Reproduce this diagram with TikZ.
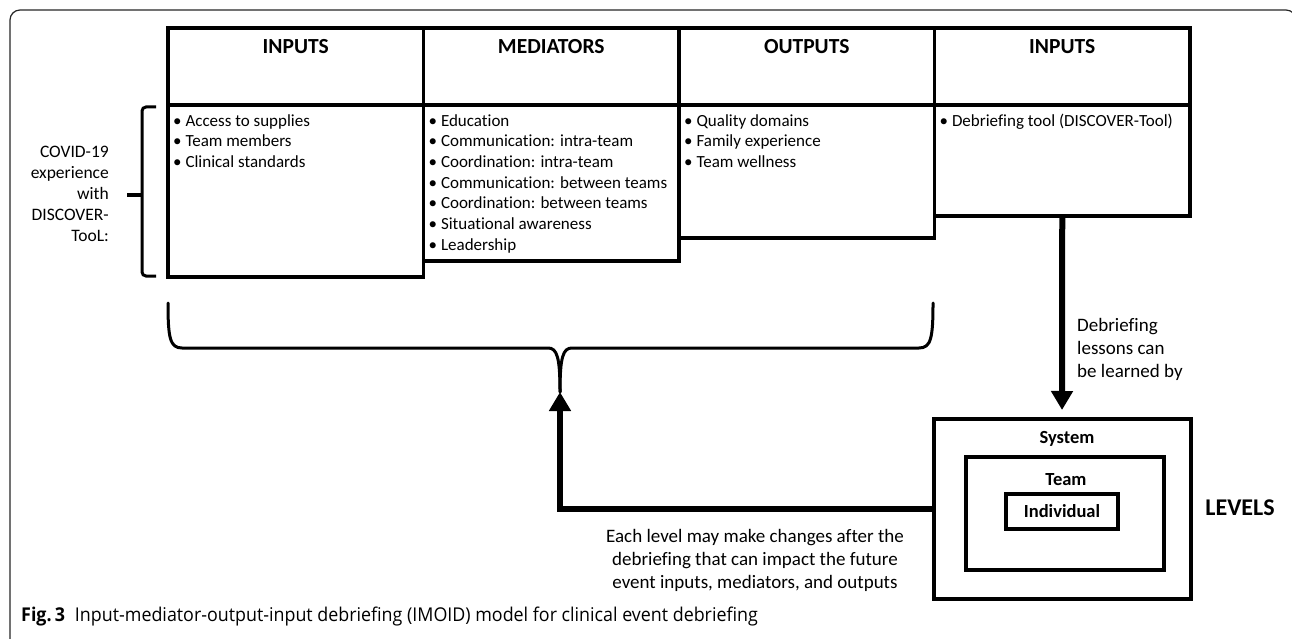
\documentclass[tikz,border=0pt]{standalone}
\usepackage{fontspec}
\setmainfont{Carlito}[Ligatures={NoCommon}]
\newfontfamily\capfont[FakeStretch=0.94]{Open Sans}
\usetikzlibrary{positioning,arrows.meta}

\tikzset{
  hdrbox/.style={draw, line width=3.5pt, outer sep=0pt, inner sep=0pt,
    minimum width=255.5pt, minimum height=77pt},
  bodybox/.style={draw, line width=3.5pt, outer sep=0pt, inner sep=0pt,
    minimum width=255.5pt},
  ttl/.style={font=\fontsize{21.5}{26}\selectfont\bfseries, inner sep=0pt},
  items/.style={anchor=north west, align=left, inner sep=0pt,
    font=\fontsize{17}{20.7}\selectfont},
  note/.style={inner sep=0pt, font=\fontsize{19}{23}\selectfont},
  lvlbox/.style={draw, line width=4pt, outer sep=0pt, inner sep=0pt},
  lvlttl/.style={font=\fontsize{18.5}{22}\selectfont\bfseries, inner sep=0pt},
  flow/.style={line width=6pt, -{Triangle[length=19pt,width=21pt]}},
  brace/.style={line width=3pt, line cap=round}
}

\begin{document}
\begin{tikzpicture}[x=1pt,y=-1pt]
\useasboundingbox (0,0) rectangle (1292,639);
% frame
\draw[line width=1.2pt, black!85, rounded corners=10pt] (10,645) -- (10,10) -- (1296,10) -- (1296,645);

% header row
\node[hdrbox, anchor=north west] (inhdr) at (168,28) {};
\node[hdrbox, right=0pt of inhdr] (medhdr) {};
\node[hdrbox, right=0pt of medhdr] (outhdr) {};
\node[hdrbox, right=0pt of outhdr] (in2hdr) {};
\node[ttl] (inttl) at ([yshift=-19pt]inhdr.north) {INPUTS};
\node[ttl] (medttl) at ([yshift=-19pt]medhdr.north) {MEDIATORS};
\node[ttl] (outttl) at ([yshift=-19pt]outhdr.north) {OUTPUTS};
\node[ttl] (in2ttl) at ([yshift=-19pt]in2hdr.north) {INPUTS};

% body boxes
\node[bodybox, minimum height=172pt, below=0pt of inhdr] (inbody) {};
\node[bodybox, minimum height=156pt, below=0pt of medhdr] (medbody) {};
\node[bodybox, minimum height=133pt, below=0pt of outhdr] (outbody) {};
\node[bodybox, minimum height=111pt, below=0pt of in2hdr] (in2body) {};

\node[items] (initems) at ([xshift=5pt,yshift=-9pt]inbody.north west)
  {\textbullet\ Access to supplies\\\textbullet\ Team members\\\textbullet\ Clinical standards};
\node[items] (meditems) at ([xshift=5pt,yshift=-9pt]medbody.north west)
  {\textbullet\ Education\\\textbullet\ Communication: intra-team\\\textbullet\ Coordination: intra-team\\
   \textbullet\ Communication: between teams\\\textbullet\ Coordination: between teams\\
   \textbullet\ Situational awareness\\\textbullet\ Leadership};
\node[items] (outitems) at ([xshift=5pt,yshift=-9pt]outbody.north west)
  {\textbullet\ Quality domains\\\textbullet\ Family experience\\\textbullet\ Team wellness};
\node[items] (in2items) at ([xshift=5pt,yshift=-9pt]in2body.north west)
  {\textbullet\ Debriefing tool (DISCOVER-Tool)};

% left bracket and label
\node[align=right, anchor=east, inner sep=0pt, font=\fontsize{17.5}{21}\selectfont] (covid) at (109,194)
  {COVID-19\\experience\\with\\DISCOVER-\\TooL:};
\draw[line width=3pt, rounded corners=4pt] (156,107) -- (142,107) -- (142,276) -- (156,276);
\draw[line width=4.5pt] (127,195) -- (142,195);

% brace under the first three columns
\coordinate (cusp) at (560,392);
\draw[brace] (168,303) .. controls (168,338) and (170,348) .. (182,348) -- (548,348)
  .. controls (557,348) and (560,357) .. (cusp);
\draw[brace] (933,303) .. controls (933,338) and (931,348) .. (919,348) -- (572,348)
  .. controls (563,348) and (560,357) .. (cusp);

% levels
\node[lvlbox, minimum width=257pt, minimum height=180pt] (sys) at (1062,509) {};
\node[lvlbox, minimum width=198pt, minimum height=113pt] (team) at (1065,513.5) {};
\node[lvlbox, minimum width=112pt, minimum height=35pt, font=\fontsize{18.5}{22}\selectfont\bfseries] (indiv) at (1062,511.5) {Individual};
\node[lvlttl] (systtl) at (1067,439) {System};
\node[lvlttl] (teamttl) at (1066,480) {Team};
\node[font=\fontsize{24}{28}\selectfont\bfseries, inner sep=0pt] (levels) at (1240,508) {LEVELS};

% arrows
\draw[flow, shorten >=9pt] (in2body.south) -- (sys.north);
\draw[flow] (sys.west) -| (cusp);

\node[note, align=left, anchor=west] (lessons) at (1077,349)
  {Debriefing\\lessons can\\be learned by};
\node[note, align=center] (change) at (755,560)
  {Each level may make changes after the\\debriefing that can impact the future\\event inputs, mediators, and outputs};

% caption
\node[anchor=west, inner sep=0pt, font=\capfont\fontsize{19}{22}\selectfont] (cap) at (21,617)
  {\textbf{Fig.\,3}\hspace{10pt}Input-mediator-output-input debriefing (IMOID) model for clinical event debriefing};
\end{tikzpicture}
\end{document}
